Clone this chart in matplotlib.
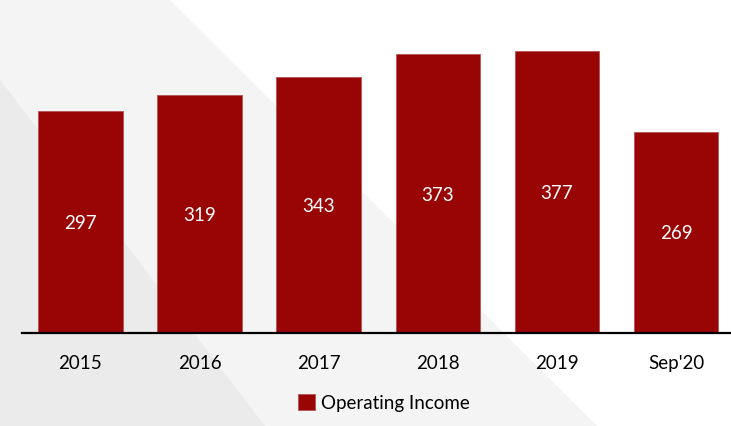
"""Operating income by year, bar chart on a slanted grey backdrop."""

import matplotlib

matplotlib.use("Agg")

import matplotlib.pyplot as plt
from matplotlib.patches import Polygon

periods = ["2015", "2016", "2017", "2018", "2019", "Sep'20"]
operating_income = [297, 319, 343, 373, 377, 269]
series_name = "Operating Income"

BAR_COLOR = "#990505"
W, H = 731, 426

plt.rcParams["font.family"] = ["Lato", "DejaVu Sans"]


def px(points):
    """Convert pixel coordinates (origin top-left) to figure fractions."""
    return [(x / W, 1 - y / H) for x, y in points]


fig = plt.figure(figsize=(W / 100, H / 100), dpi=100)
fig.patch.set_facecolor("white")

# slanted backdrop bands
fig.add_artist(Polygon(px([(0, 0), (170, 0), (597, 426), (0, 426)]),
                       closed=True, transform=fig.transFigure,
                       facecolor="#f4f4f4", edgecolor="none", zorder=0))
fig.add_artist(Polygon(px([(0, 80), (265, 426), (0, 426)]),
                       closed=True, transform=fig.transFigure,
                       facecolor="#ebebeb", edgecolor="none", zorder=0))

ax = fig.add_axes([22 / W, (H - 333) / H, (W - 22) / W, (333 - 34) / H])
ax.patch.set_alpha(0)

x = range(len(periods))
bars = ax.bar(x, operating_income, width=0.71, color=BAR_COLOR,
              edgecolor="#b65454", linewidth=0.6, label=series_name)

for rect, value in zip(bars, operating_income):
    ax.text(rect.get_x() + rect.get_width() / 2, value / 2, f"{value}",
            ha="center", va="center_baseline", color="white", fontsize=13.5)

ax.set_xlim(-0.49, 5.46)
ax.set_ylim(0, 400)
ax.set_xticks(list(x))
ax.set_xticklabels(periods, fontsize=13.5)
ax.tick_params(axis="x", length=0, pad=16)
ax.set_yticks([])
for side in ("top", "right", "left"):
    ax.spines[side].set_visible(False)
ax.spines["bottom"].set_linewidth(1.6)
ax.spines["bottom"].set_color("black")

fig.legend(handles=[bars], labels=[series_name], loc="center",
           bbox_to_anchor=(384 / W, 1 - 403 / H), frameon=False,
           fontsize=13.5, handlelength=0.9, handleheight=0.9,
           handletextpad=0.3)

fig.savefig("out.png", dpi=100)
plt.close(fig)
